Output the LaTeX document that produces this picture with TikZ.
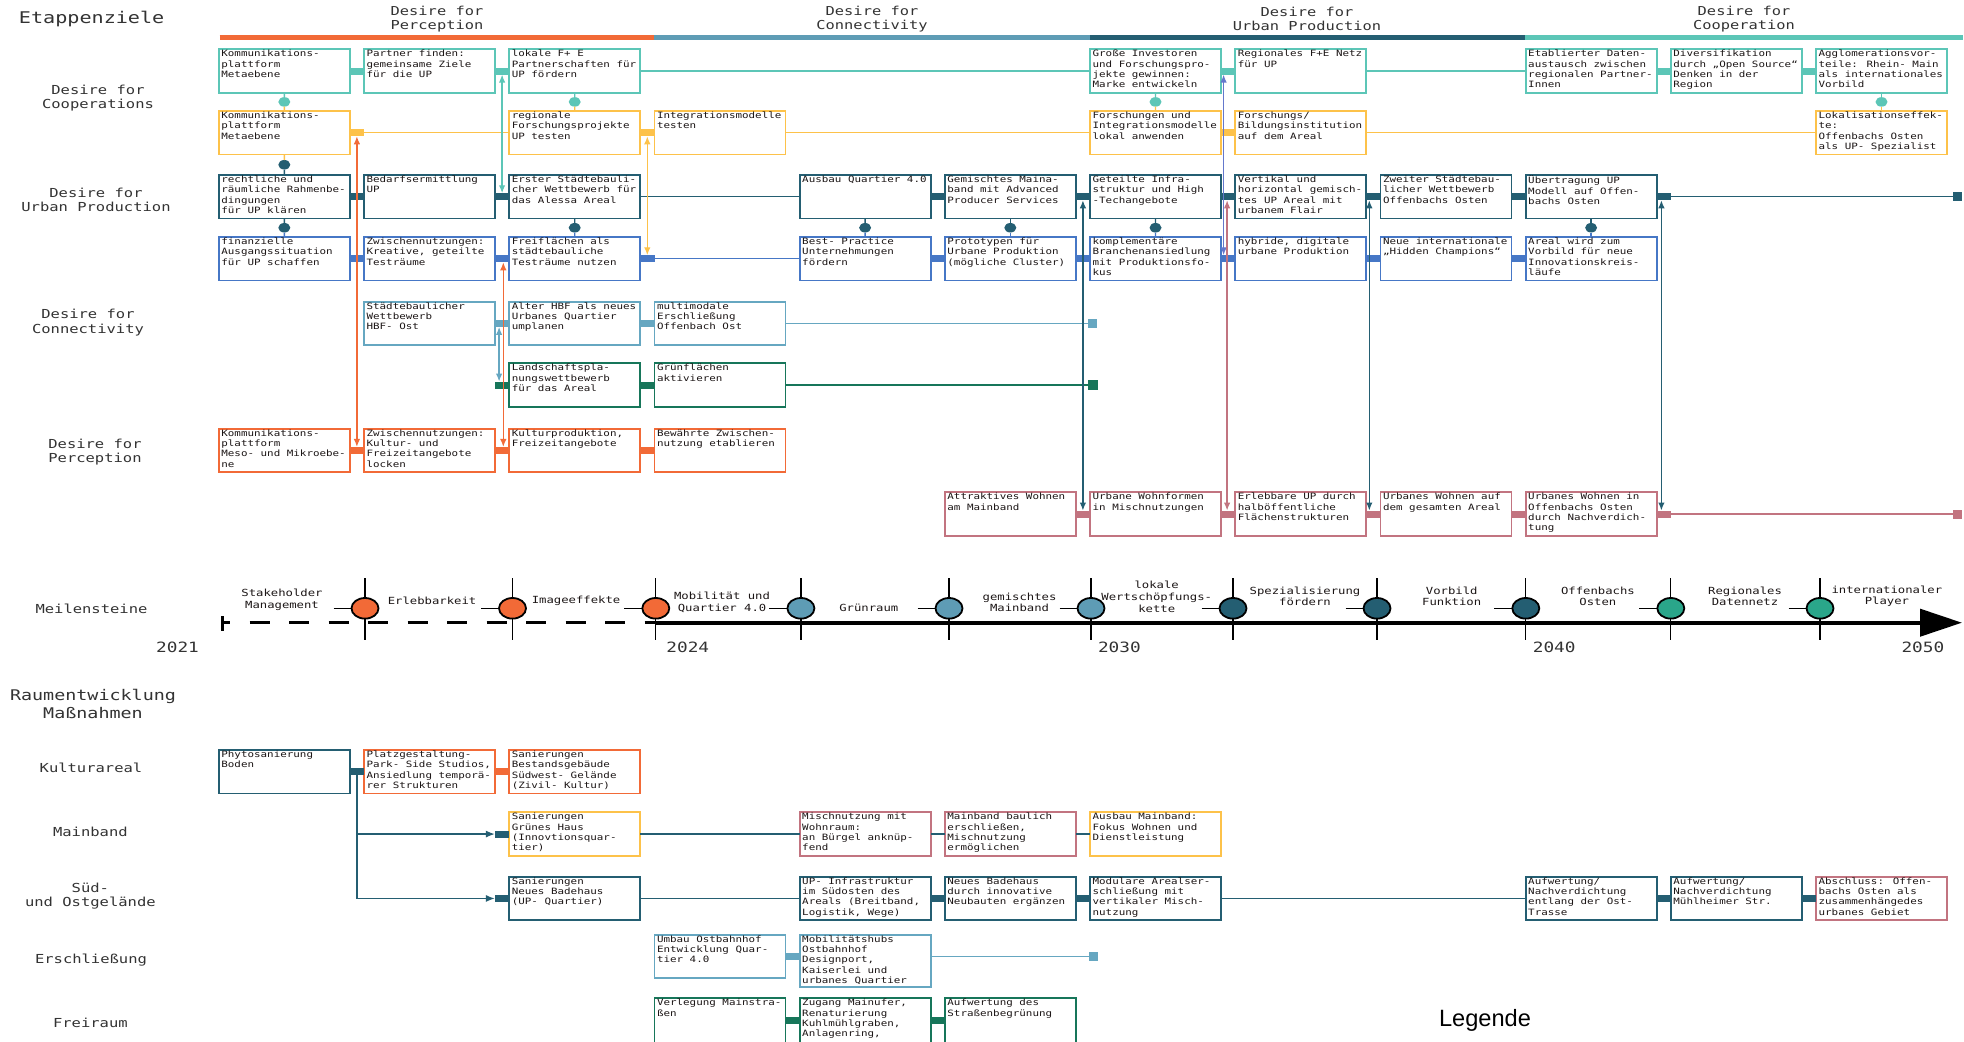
\documentclass[tikz,border=0pt]{standalone}
\usepackage{fontspec}
\newfontfamily\dfont[FakeStretch=1.25]{DejaVu Sans Mono}
\newfontfamily\legfont{Liberation Sans}
\usetikzlibrary{arrows.meta,calc,shapes.geometric}

\definecolor{cMint}{HTML}{5CC6B7}
\definecolor{cYel}{HTML}{FDC24A}
\definecolor{cDark}{HTML}{245E72}
\definecolor{cBlue}{HTML}{4677C6}
\definecolor{cSky}{HTML}{66A7C1}
\definecolor{cGreen}{HTML}{17765A}
\definecolor{cOrange}{HTML}{F26A37}
\definecolor{cRose}{HTML}{C27480}
\definecolor{cViolet}{HTML}{6478CC}
\definecolor{cMsGreen}{HTML}{2AA68A}
\definecolor{cMsBlue}{HTML}{5E9CB5}
\definecolor{cTxt}{HTML}{1C1616}
\definecolor{cLbl}{HTML}{333333}

\newcommand\etfont{\dfont\fontsize{8.7}{10.3}\selectfont}

\tikzset{
  ebox/.style={rectangle, anchor=north west, minimum width=131pt, inner sep=0pt, outer sep=0pt, line width=1.8pt, fill=white},
  etext/.style={anchor=north west, align=left, inner xsep=2.4pt, inner ysep=0.6pt, font=\etfont, text=cTxt},
  jbar/.style={rectangle, minimum width=14.4pt, minimum height=7pt, inner sep=0pt, outer sep=0pt},
  endsq/.style={rectangle, minimum size=9pt, inner sep=0pt, outer sep=0pt},
  dotn/.style={ellipse, minimum width=12pt, minimum height=9.5pt, inner sep=0pt, outer sep=0pt},
  conn/.style={line width=1.4pt},
  varrow/.style={line width=1.4pt, {Latex[length=8pt,width=6.5pt]}-{Latex[length=8pt,width=6.5pt]}},
  rowlbl/.style={align=center, text=cLbl, font=\dfont\fontsize{12.4}{14.5}\selectfont},
  htitle/.style={align=center, text=cLbl, font=\dfont\fontsize{12.3}{14.3}\selectfont},
  mlabel/.style={align=center, inner sep=0pt, text=cTxt, font=\dfont\fontsize{9.8}{11.7}\selectfont},
  yrlbl/.style={text=cLbl, inner sep=0pt, font=\dfont\fontsize{14.2}{16}\selectfont},
  tick/.style={line width=1.3pt, black},
  ms/.style={ellipse, minimum width=27pt, minimum height=20.6pt, inner sep=0pt, draw=black, line width=1.8pt}
}

% box: [height]{name}{column}{top}{colour}{text}
\newcommand\bx[6][43.5]{%
  \node[ebox, draw=#5, minimum height=#1pt] (#2) at ({218.8+145.2*#3},#4) {};
  \node[etext] at (#2.north west) {#6};}
% junction bar in the gap left of a column: {name}{column}{y}{colour}
\newcommand\jn[4]{\node[jbar, fill=#4] (#1) at ({218.8+145.2*#2-7.1},#3) {};}
% vertical link with a dot: {upper}{lower}{upper colour}{lower colour}{dot colour}{name}
\newcommand\dl[6]{%
  \node[dotn, fill=#5] (#6) at ($(#1.south)!0.5!(#2.north)$) {};
  \draw[conn, #3] (#1.south) -- (#6.north);
  \draw[conn, #4] (#6.south) -- (#2.north);}

\begin{document}
\begin{tikzpicture}[x=1pt, y=-1pt]
\fill[white] (0,0) rectangle (1964,1041);
\useasboundingbox (0,0) rectangle (1964,1041);

% ---------- headings ----------
\node[anchor=west, text=cLbl, inner sep=0pt, font=\dfont\fontsize{16.1}{18}\selectfont] (etz) at (18.75,19) {Etappenziele};
\node[htitle] (hP) at (437,18.8) {Desire for\\Perception};
\node[htitle] (hC) at (872,18.8) {Desire for\\Connectivity};
\node[htitle] (hU) at (1307,18.8) {Desire for\\Urban Production};
\node[htitle] (hK) at (1744,18.8) {Desire for\\Cooperation};
\draw[line width=5pt, cOrange] (219.6,37.5) -- (654,37.5);
\draw[line width=5pt, cMsBlue] (654,37.5) -- (1090,37.5);
\draw[line width=5pt, cDark] (1090,37.5) -- (1525,37.5);
\draw[line width=5pt, cMint] (1525,37.5) -- (1963,37.5);

\node[rowlbl] (lCoop) at (98,98) {Desire for\\Cooperations};
\node[rowlbl] (lUP) at (96,200) {Desire for\\Urban Production};
\node[rowlbl] (lConn) at (88,322.7) {Desire for\\Connectivity};
\node[rowlbl] (lPerc) at (95,452) {Desire for\\Perception};
\node[rowlbl] (lMs) at (91.5,609) {Meilensteine};
\node[align=center, text=cLbl, font=\dfont\fontsize{14.7}{17.4}\selectfont] (lRaum) at (93,704) {Raumentwicklung\\Maßnahmen};
\node[rowlbl] (lKul) at (91,768) {Kulturareal};
\node[rowlbl] (lMain) at (90.4,832) {Mainband};
\node[rowlbl] (lSued) at (90.4,896) {Süd-\\und Ostgelände};
\node[rowlbl] (lErs) at (91,960) {Erschließung};
\node[rowlbl] (lFrei) at (90.4,1023) {Freiraum};

% ---------- Desire for Cooperations (1) ----------
\bx{c1a}{0}{49.3}{cMint}{Kommunikations-\\plattform\\Metaebene}
\bx{c1b}{1}{49.3}{cMint}{Partner finden:\\gemeinsame Ziele\\für die UP}
\bx{c1c}{2}{49.3}{cMint}{lokale F+ E\\Partnerschaften für\\UP fördern}
\bx{c1g}{6}{49.3}{cMint}{Große Investoren\\und Forschungspro-\\jekte gewinnen:\\Marke entwickeln}
\bx{c1h}{7}{49.3}{cMint}{Regionales F+E Netz\\für UP}
\bx{c1j}{9}{49.3}{cMint}{Etablierter Daten-\\austausch zwischen\\regionalen Partner-\\Innen}
\bx{c1k}{10}{49.3}{cMint}{Diversifikation\\durch „Open Source“\\Denken in der\\Region}
\bx{c1l}{11}{49.3}{cMint}{Agglomerationsvor-\\teile: Rhein- Main\\als internationales\\Vorbild}
\jn{jc1-1}{1}{71.05}{cMint}
\jn{jc1-2}{2}{71.05}{cMint}
\jn{jc1-7}{7}{71.05}{cMint}
\jn{jc1-10}{10}{71.05}{cMint}
\jn{jc1-11}{11}{71.05}{cMint}
\draw[conn, cMint] (c1c.east) -- (c1g.west);
\draw[conn, cMint] (c1h.east) -- (c1j.west);

% ---------- Desire for Cooperations (2) ----------
\bx{c2a}{0}{111}{cYel}{Kommunikations-\\plattform\\Metaebene}
\bx{c2c}{2}{111}{cYel}{regionale\\Forschungsprojekte\\UP testen}
\bx{c2d}{3}{111}{cYel}{Integrationsmodelle\\testen}
\bx{c2g}{6}{111}{cYel}{Forschungen und\\Integrationsmodelle\\lokal anwenden}
\bx{c2h}{7}{111}{cYel}{Forschungs/\\Bildungsinstitution\\auf dem Areal}
\bx{c2l}{11}{111}{cYel}{Lokalisationseffek-\\te:\\Offenbachs Osten\\als UP- Spezialist}
\jn{jc2-1}{1}{132.75}{cYel}
\jn{jc2-3}{3}{132.75}{cYel}
\jn{jc2-7}{7}{132.75}{cYel}
\draw[conn, cYel] (jc2-1.east) -- (c2c.west);
\draw[conn, cYel] (c2d.east) -- (c2g.west);
\draw[conn, cYel] (c2h.east) -- (c2l.west);

% ---------- Desire for Urban Production (1) ----------
\bx{u1a}{0}{175}{cDark}{rechtliche und\\räumliche Rahmenbe-\\dingungen\\für UP klären}
\bx{u1b}{1}{175}{cDark}{Bedarfsermittlung\\UP}
\bx{u1c}{2}{175}{cDark}{Erster Städtebauli-\\cher Wettbewerb für\\das Alessa Areal}
\bx{u1e}{4}{175}{cDark}{Ausbau Quartier 4.0}
\bx{u1f}{5}{175}{cDark}{Gemischtes Maina-\\band mit Advanced\\Producer Services}
\bx{u1g}{6}{175}{cDark}{Geteilte Infra-\\struktur und High\\-Techangebote}
\bx{u1h}{7}{175}{cDark}{Vertikal und\\horizontal gemisch-\\tes UP Areal mit\\urbanem Flair}
\bx{u1i}{8}{175}{cDark}{Zweiter Städtebau-\\licher Wettbewerb\\Offenbachs Osten}
\bx{u1j}{9}{175}{cDark}{Übertragung UP\\Modell auf Offen-\\bachs Osten}
\foreach \k in {1,2,5,6,7,8,9,10} {\jn{ju1-\k}{\k}{196.75}{cDark}}
\node[endsq, fill=cDark] (eu1) at (1957,196.75) {};
\draw[conn, cDark] (u1c.east) -- (u1e.west);
\draw[conn, cDark] (ju1-10.east) -- (eu1.west);

% ---------- Desire for Urban Production (2) ----------
\bx{u2a}{0}{237}{cBlue}{finanzielle\\Ausgangssituation\\für UP schaffen}
\bx{u2b}{1}{237}{cBlue}{Zwischennutzungen:\\Kreative, geteilte\\Testräume}
\bx{u2c}{2}{237}{cBlue}{Freiflächen als\\städtebauliche\\Testräume nutzen}
\bx{u2e}{4}{237}{cBlue}{Best- Practice\\Unternehmungen\\fördern}
\bx{u2f}{5}{237}{cBlue}{Prototypen für\\Urbane Produktion\\(mögliche Cluster)}
\bx{u2g}{6}{237}{cBlue}{komplementäre\\Branchenansiedlung\\mit Produktionsfo-\\kus}
\bx{u2h}{7}{237}{cBlue}{hybride, digitale\\urbane Produktion}
\bx{u2i}{8}{237}{cBlue}{Neue internationale\\„Hidden Champions“}
\bx{u2j}{9}{237}{cBlue}{Areal wird zum\\Vorbild für neue\\Innovationskreis-\\läufe}
\foreach \k in {1,2,3,5,6,7,8,9} {\jn{ju2-\k}{\k}{258.75}{cBlue}}
\draw[conn, cBlue] (ju2-3.east) -- (u2e.west);

% ---------- Desire for Connectivity ----------
\bx{k1b}{1}{301.7}{cSky}{Städtebaulicher\\Wettbewerb\\HBF- Ost}
\bx{k1c}{2}{301.7}{cSky}{Alter HBF als neues\\Urbanes Quartier\\umplanen}
\bx{k1d}{3}{301.7}{cSky}{multimodale\\Erschließung\\Offenbach Ost}
\jn{jk1-2}{2}{323.45}{cSky}
\jn{jk1-3}{3}{323.45}{cSky}
\node[endsq, fill=cSky] (ek1) at (1092,323.45) {};
\draw[conn, cSky] (k1d.east) -- (ek1.west);

\bx{k2c}{2}{363.3}{cGreen}{Landschaftspla-\\nungswettbewerb\\für das Areal}
\bx{k2d}{3}{363.3}{cGreen}{Grünflächen\\aktivieren}
\jn{jk2-2}{2}{385.05}{cGreen}
\jn{jk2-3}{3}{385.05}{cGreen}
\node[endsq, minimum size=10.5pt, fill=cGreen] (ek2) at (1093,385.05) {};
\draw[conn, cGreen] (k2d.east) -- (ek2.west);

% ---------- Desire for Perception ----------
\bx{pa}{0}{428.7}{cOrange}{Kommunikations-\\plattform\\Meso- und Mikroebe-\\ne}
\bx{pb}{1}{428.7}{cOrange}{Zwischennutzungen:\\Kultur- und\\Freizeitangebote\\locken}
\bx{pc}{2}{428.7}{cOrange}{Kulturproduktion,\\Freizeitangebote}
\bx{pd}{3}{428.7}{cOrange}{Bewährte Zwischen-\\nutzung etablieren}
\foreach \k in {1,2,3} {\jn{jp-\k}{\k}{450.45}{cOrange}}

% ---------- housing row ----------
\bx{wf}{5}{492.3}{cRose}{Attraktives Wohnen\\am Mainband}
\bx{wg}{6}{492.3}{cRose}{Urbane Wohnformen\\in Mischnutzungen}
\bx{wh}{7}{492.3}{cRose}{Erlebbare UP durch\\halböffentliche\\Flächenstrukturen}
\bx{wi}{8}{492.3}{cRose}{Urbanes Wohnen auf\\dem gesamten Areal}
\bx{wj}{9}{492.3}{cRose}{Urbanes Wohnen in\\Offenbachs Osten\\durch Nachverdich-\\tung}
\foreach \k in {6,7,8,9,10} {\jn{jw-\k}{\k}{514.05}{cRose}}
\node[endsq, fill=cRose] (ew) at (1957,514.05) {};
\draw[conn, cRose] (jw-10.east) -- (ew.west);

% ---------- dotted vertical links ----------
\dl{c1a}{c2a}{cMint}{cYel}{cMint}{d1}
\dl{c2a}{u1a}{cYel}{cDark}{cDark}{d2}
\dl{u1a}{u2a}{cDark}{cBlue}{cDark}{d3}
\dl{c1c}{c2c}{cMint}{cYel}{cMint}{d4}
\dl{u1c}{u2c}{cDark}{cBlue}{cDark}{d5}
\dl{c1g}{c2g}{cMint}{cYel}{cMint}{d6}
\dl{u1e}{u2e}{cDark}{cBlue}{cDark}{d7}
\dl{u1f}{u2f}{cDark}{cBlue}{cDark}{d8}
\dl{u1g}{u2g}{cDark}{cBlue}{cDark}{d9}
\dl{u1j}{u2j}{cDark}{cBlue}{cDark}{d10}
\dl{c1l}{c2l}{cMint}{cYel}{cMint}{d11}

% ---------- cross-row arrows ----------
\draw[varrow, cOrange] (jc2-1.south) -- (jp-1.north);
\draw[varrow, cMint] (jc1-2.south) -- (ju1-2.north);
\draw[varrow, cOrange] ([xshift=1.2pt]ju2-2.south) -- ([xshift=1.2pt]jp-2.north);
\draw[varrow, cSky] ([xshift=-3pt]jk1-2.south) -- ([xshift=-3pt]jk2-2.north);
\draw[varrow, cYel] (jc2-3.south) -- (ju2-3.north);
\draw[varrow, cDark] (ju1-6.south) -- (jw-6.north);
\draw[varrow, cViolet] ([xshift=-4.5pt]jc1-7.south) -- ([xshift=-4.5pt]ju2-7.north);
\draw[varrow, cRose] ([xshift=-1pt]ju1-7.south) -- ([xshift=-1pt]jw-7.north);
\draw[varrow, cDark] ([xshift=-4pt]ju1-8.south) -- ([xshift=-4pt]jw-8.north);
\draw[varrow, cDark] ([xshift=-2.3pt]ju1-10.south) -- ([xshift=-2.3pt]jw-10.north);

% ---------- milestones ----------
\coordinate (t0) at (222,622.7);
\coordinate (t24) at (655.8,622.7);
\coordinate (tend) at (1962,622.7);
\draw[line width=3.5pt, dash pattern=on 20pt off 19.5pt, dash phase=12pt] (t0) -- (t24);
\draw[line width=3pt] (222,616.2) -- (222,631.2);
\draw[line width=4pt, -{Triangle[length=42pt,width=27pt]}] (t24) -- (tend);
\foreach \x/\c/\n in {365/cOrange/m1, 512.5/cOrange/m2, 655.8/cOrange/m3, 800.9/cMsBlue/m4, 949/cMsBlue/m5, 1091/cMsBlue/m6, 1233/cDark/m7, 1377/cDark/m8, 1525.8/cDark/m9, 1670.8/cMsGreen/m10, 1820/cMsGreen/m11} {
  \draw[tick] (\x,578.3) -- (\x,640);
  \draw[tick] (\x-31.5,608.3) -- (\x,608.3);
  \node[ms, fill=\c] (\n) at (\x,608.3) {};
}
\node[mlabel] (ml1) at (282,600) {Stakeholder\\Management};
\node[mlabel] (ml2) at (432,601) {Erlebbarkeit};
\node[mlabel] (ml3) at (576,601) {Imageeffekte};
\node[mlabel] (ml4) at (722,602.3) {Mobilität und\\Quartier 4.0};
\node[mlabel] (ml5) at (868.8,608) {Grünraum};
\node[mlabel] (ml6) at (1019.6,602.3) {gemischtes\\Mainband};
\node[mlabel] (ml7) at (1156.7,596.7) {lokale\\Wertschöpfungs-\\kette};
\node[mlabel] (ml8) at (1305,596.3) {Spezialisierung\\fördern};
\node[mlabel] (ml9) at (1451.7,596.3) {Vorbild\\Funktion};
\node[mlabel] (ml10) at (1597.9,596.3) {Offenbachs\\Osten};
\node[mlabel] (ml11) at (1745,596.3) {Regionales\\Datennetz};
\node[mlabel] (ml12) at (1886.9,596.3) {internationaler\\Player};
\node[yrlbl] (y21) at (177.5,647) {2021};
\node[yrlbl] (y24) at (687.8,647) {2024};
\node[yrlbl] (y30) at (1119.4,647) {2030};
\node[yrlbl] (y40) at (1554.2,647) {2040};
\node[yrlbl] (y50) at (1922.9,647) {2050};

% ---------- Kulturareal ----------
\bx{kb0}{0}{750}{cDark}{Phytosanierung\\Boden}
\bx{kb1}{1}{750}{cOrange}{Platzgestaltung-\\Park- Side Studios,\\Ansiedlung temporä-\\rer Strukturen}
\bx{kb2}{2}{750}{cOrange}{Sanierungen\\Bestandsgebäude\\Südwest- Gelände\\(Zivil- Kultur)}
\jn{jkul-1}{1}{771.75}{cDark}
\jn{jkul-2}{2}{771.75}{cOrange}

% ---------- Mainband ----------
\bx{mb2}{2}{812.3}{cYel}{Sanierungen\\Grünes Haus\\(Innovtionsquar-\\tier)}
\bx{mb4}{4}{812.3}{cRose}{Mischnutzung mit\\Wohnraum:\\an Bürgel anknüp-\\fend}
\bx{mb5}{5}{812.3}{cRose}{Mainband baulich\\erschließen,\\Mischnutzung\\ermöglichen}
\bx{mb6}{6}{812.3}{cYel}{Ausbau Mainband:\\Fokus Wohnen und\\Dienstleistung}
\jn{jm-2}{2}{834.05}{cDark}
\draw[conn, cDark] (mb2.east) -- (mb4.west);
\draw[conn, cDark] (mb4.east) -- (mb5.west);
\draw[conn, cDark] (mb5.east) -- (mb6.west);

% ---------- Sued- und Ostgelaende ----------
\bx{sb2}{2}{876.7}{cDark}{Sanierungen\\Neues Badehaus\\(UP- Quartier)}
\bx{sb4}{4}{876.7}{cDark}{UP- Infrastruktur\\im Südosten des\\Areals (Breitband,\\Logistik, Wege)}
\bx{sb5}{5}{876.7}{cDark}{Neues Badehaus\\durch innovative\\Neubauten ergänzen}
\bx{sb6}{6}{876.7}{cDark}{Modulare Arealser-\\schließung mit\\vertikaler Misch-\\nutzung}
\bx{sb9}{9}{876.7}{cDark}{Aufwertung/\\Nachverdichtung\\entlang der Ost-\\Trasse}
\bx{sb10}{10}{876.7}{cDark}{Aufwertung/\\Nachverdichtung\\Mühlheimer Str.}
\bx{sb11}{11}{876.7}{cRose}{Abschluss: Offen-\\bachs Osten als\\zusammenhängedes\\urbanes Gebiet}
\foreach \k in {2,5,6,10,11} {\jn{js-\k}{\k}{898.45}{cDark}}
\draw[conn, cDark] (sb2.east) -- (sb4.west);
\draw[conn, cDark] (sb6.east) -- (sb9.west);

\draw[conn, cDark, -{Latex[length=9pt,width=7pt]}] (jkul-1.south) |- (jm-2.west);
\draw[conn, cDark, -{Latex[length=9pt,width=7pt]}] (jkul-1.south) |- (js-2.west);

% ---------- Erschliessung ----------
\bx{eb3}{3}{934.7}{cSky}{Umbau Ostbahnhof\\Entwicklung Quar-\\tier 4.0}
\bx[52.5]{eb4}{4}{934.7}{cSky}{Mobilitätshubs\\Ostbahnhof\\Designport,\\Kaiserlei und\\urbanes Quartier}
\jn{je-4}{4}{956.45}{cSky}
\node[endsq, fill=cSky] (ee) at (1093,956.45) {};
\draw[conn, cSky] (eb4.east |- je-4) -- (ee.west);

% ---------- Freiraum ----------
\bx[52]{fb3}{3}{998.3}{cGreen}{Verlegung Mainstra-\\ßen}
\bx[52]{fb4}{4}{998.3}{cGreen}{Zugang Mainufer,\\Renaturierung\\Kuhlmühlgraben,\\Anlagenring,}
\bx[52]{fb5}{5}{998.3}{cGreen}{Aufwertung des\\Straßenbegrünung}
\jn{jf-4}{4}{1020}{cGreen}
\jn{jf-5}{5}{1020}{cGreen}

\node[font=\legfont\fontsize{23.6}{28}\selectfont, text=black, inner sep=0pt] (leg) at (1485,1020) {Legende};
\end{tikzpicture}
\end{document}
